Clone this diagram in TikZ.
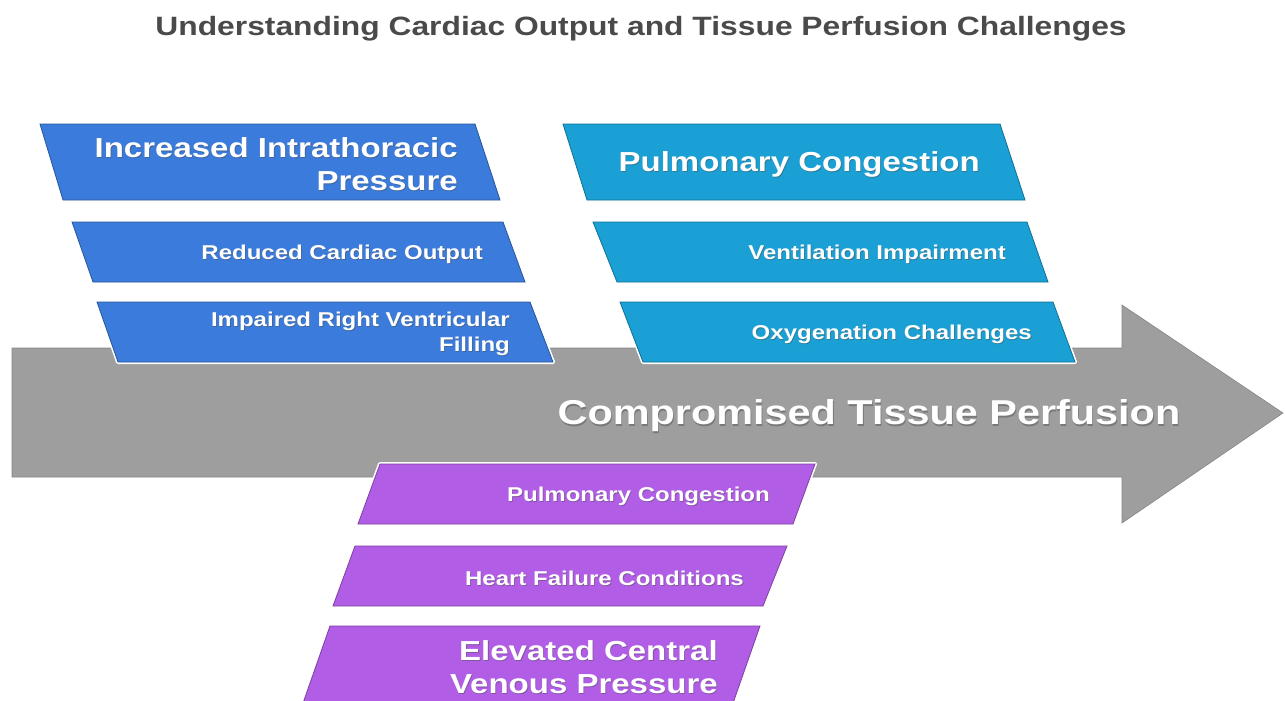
\documentclass[tikz,border=0pt]{standalone}
\usepackage{fontspec}
\setmainfont{Liberation Sans}
\newfontfamily\widesans[FakeStretch=1.2]{Liberation Sans}
\usetikzlibrary{positioning}

\definecolor{titlegray}{HTML}{4A4A4A}
\definecolor{bluefill}{HTML}{3A7BDB}
\definecolor{tealfill}{HTML}{1AA0D4}
\definecolor{violetfill}{HTML}{B15DE6}
\definecolor{arrowgray}{HTML}{9E9E9E}

% label with a soft dark copy underneath
\newcommand{\castlabel}[4]{%
  \node[#2, text=black!70, opacity=0.45, xshift=0.8pt, yshift=-1.2pt] at (#3) {#4};
  \node[#2] (#1) at (#3) {#4};}

\begin{document}
\begin{tikzpicture}[
    x=1pt, y=-1pt,
    slab/.style={preaction={draw=white, line width=4pt, line join=round}, draw=#1!70!black, line width=0.8pt, fill=#1},
    bigtxt/.style={text=white, font=\widesans\bfseries\fontsize{27.5}{33}\selectfont, align=right, anchor=east, inner sep=0pt, yshift=-2pt},
    smalltxt/.style={text=white, font=\widesans\bfseries\fontsize{20}{25}\selectfont, align=right, anchor=east, inner sep=0pt, yshift=-2pt},
    arrowtxt/.style={text=white, font=\widesans\bfseries\fontsize{34.5}{40}\selectfont, inner sep=0pt, yshift=-3pt},
    titletxt/.style={text=titlegray, font=\widesans\bfseries\fontsize{26.5}{30}\selectfont, inner sep=0pt}
]
\useasboundingbox (0,0) rectangle (1285,701);

\node[titletxt] (title) at (641,29) {Understanding Cardiac Output and Tissue Perfusion Challenges};

% main arrow
\filldraw[fill=arrowgray, draw=arrowgray!85!black, line width=0.6pt]
    (12,348) -- (1122,348) -- (1122,305) -- (1283,413) -- (1122,523) -- (1122,477) -- (12,477) -- cycle;
\castlabel{perfusion}{arrowtxt}{869,413}{Compromised Tissue Perfusion}

% upper left branch
\filldraw[slab=bluefill] (40,124) -- (475,124) -- (500,200) -- (63,200) -- cycle;
\castlabel{intrathoracic}{bigtxt}{458,162}{Increased Intrathoracic\\Pressure}
\filldraw[slab=bluefill] (72,222) -- (503,222) -- (525,282) -- (93,282) -- cycle;
\castlabel{output}{smalltxt}{483,252}{Reduced Cardiac Output}
\filldraw[slab=bluefill] (97,302) -- (530,302) -- (553,362) -- (118,362) -- cycle;
\castlabel{filling}{smalltxt}{510,332}{Impaired Right Ventricular\\Filling}

% upper right branch
\filldraw[slab=tealfill] (563,124) -- (1000,124) -- (1025,200) -- (587,200) -- cycle;
\castlabel{congestion}{bigtxt}{980,162}{Pulmonary Congestion}
\filldraw[slab=tealfill] (593,222) -- (1027,222) -- (1048,282) -- (617,282) -- cycle;
\castlabel{ventilation}{smalltxt}{1006,252}{Ventilation Impairment}
\filldraw[slab=tealfill] (620,302) -- (1053,302) -- (1075,362) -- (643,362) -- cycle;
\castlabel{oxygenation}{smalltxt}{1032,332}{Oxygenation Challenges}

% lower branch
\filldraw[slab=violetfill] (380,464) -- (815,464) -- (793,524) -- (358,524) -- cycle;
\castlabel{congestionb}{smalltxt}{770,494}{Pulmonary Congestion}
\filldraw[slab=violetfill] (355,546) -- (787,546) -- (763,606) -- (333,606) -- cycle;
\castlabel{failure}{smalltxt}{744,576}{Heart Failure Conditions}
\filldraw[slab=violetfill] (330,626) -- (760,626) -- (732,706) -- (302,706) -- cycle;
\castlabel{venous}{bigtxt}{718,665}{Elevated Central\\Venous Pressure}
\end{tikzpicture}
\end{document}
